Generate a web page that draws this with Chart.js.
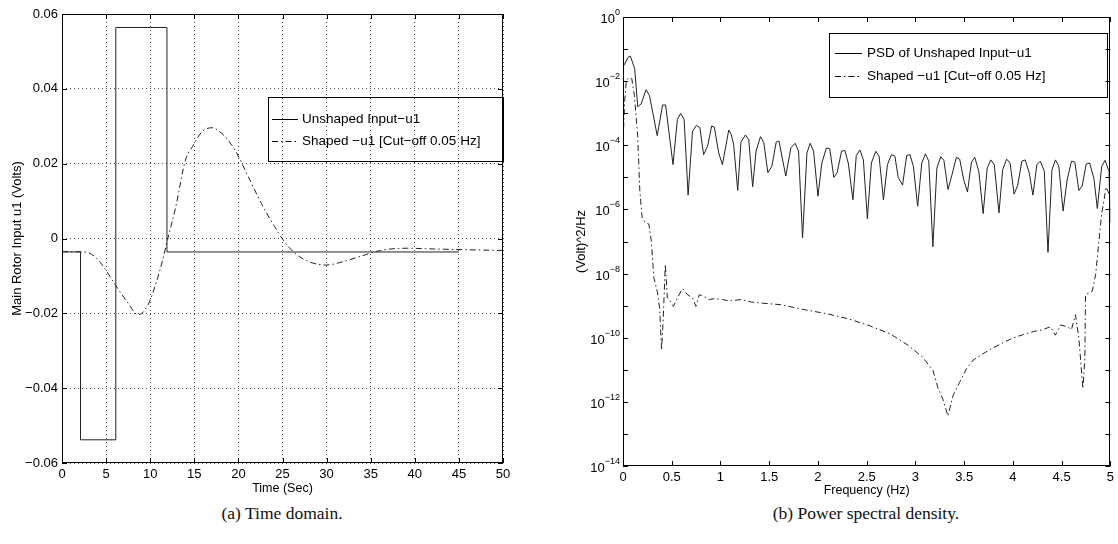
<!DOCTYPE html>
<html>
<head>
<meta charset="utf-8">
<script src="https://cdn.jsdelivr.net/npm/chart.js@4.4.1/dist/chart.umd.min.js"></script>
<style>
  body { margin: 0; background: #fff; width: 1118px; height: 544px; position: relative; overflow: hidden; }
  canvas { position: absolute; top: 0; }
  #timeChart { left: 0; }
  #psdChart { left: 560px; }
  .caption { position: absolute; top: 503px; font-family: "Liberation Serif", "Times New Roman", serif; font-size: 17.5px; color: #111; text-align: center; }
</style>
</head>
<body>
<canvas id="timeChart" width="560" height="500"></canvas>
<canvas id="psdChart" width="558" height="500"></canvas>
<div class="caption" style="left:0;width:564px">(a) Time domain.</div>
<div class="caption" style="left:560px;width:612px">(b) Power spectral density.</div>
<script>
const FONT = "'Liberation Sans', Arial, sans-serif";

// (a) time domain
const timeXTicks = [0, 5, 10, 15, 20, 25, 30, 35, 40, 45, 50];
const timeYTicks = [-0.06, -0.04, -0.02, 0, 0.02, 0.04, 0.06];
const unshapedT = [0, 2.1, 6.1, 11.9, 45];
const unshapedU = [-0.0036, -0.0538, 0.0564, -0.0036, -0.0036];
const shapedT = [0, 2.6, 3.7, 4.7, 5.8, 7.5, 8.6, 9.7, 11.0, 12.15, 12.9, 14.0, 14.8, 15.9, 17.0, 18.1,
    19.6, 21.1, 22.6, 24.1, 25.2, 26.4, 27.9, 29.9, 32.0, 33.8, 36.1, 39.1, 42.1, 45.8, 50];
const shapedU = [-0.0035, -0.0036, -0.0048, -0.0075, -0.0115, -0.0173, -0.0204, -0.018, -0.0093, 0.0014,
    0.0085, 0.021, 0.0246, 0.0286, 0.0296, 0.0281, 0.0237, 0.0166, 0.0094, 0.0032, -0.0008, -0.0039,
    -0.0061, -0.0071, -0.0061, -0.0048, -0.0032, -0.0026, -0.0028, -0.003, -0.0032];

// (b) power spectral density
const freqXTicks = [0, 0.5, 1, 1.5, 2, 2.5, 3, 3.5, 4, 4.5, 5];
const psdYTicks = [1e0, 1e-1, 1e-2, 1e-3, 1e-4, 1e-5, 1e-6, 1e-7, 1e-8, 1e-9, 1e-10, 1e-11, 1e-12, 1e-13, 1e-14];
const psdFreqUnshaped = [0, 0.058, 0.076, 0.12, 0.151, 0.186, 0.237, 0.272, 0.351, 0.406,
    0.437, 0.513, 0.558, 0.592, 0.627, 0.668, 0.713, 0.754, 0.789, 0.827,
    0.868, 0.909, 0.937, 0.982, 1.02, 1.085, 1.11, 1.135, 1.177, 1.21,
    1.256, 1.29, 1.33, 1.365, 1.41, 1.445, 1.486, 1.527, 1.572, 1.6,
    1.67, 1.722, 1.766, 1.801, 1.842, 1.887, 1.92, 1.955, 2.0, 2.04,
    2.087, 2.121, 2.163, 2.197, 2.242, 2.276, 2.311, 2.359, 2.393, 2.431,
    2.466, 2.507, 2.548, 2.593, 2.627, 2.672, 2.713, 2.754, 2.789, 2.823,
    2.868, 2.91, 2.944, 2.979, 3.023, 3.065, 3.103, 3.137, 3.179, 3.22,
    3.26, 3.292, 3.334, 3.375, 3.42, 3.454, 3.496, 3.534, 3.575, 3.609,
    3.65, 3.695, 3.736, 3.774, 3.809, 3.857, 3.895, 3.936, 3.971, 4.012,
    4.05, 4.091, 4.126, 4.167, 4.205, 4.246, 4.281, 4.322, 4.36, 4.401,
    4.436, 4.47, 4.515, 4.556, 4.601, 4.635, 4.677, 4.711, 4.752, 4.787,
    4.831, 4.866, 4.911, 4.945, 4.986, 5.0];
const psdUnshaped = [2.8e-2, 5.8e-2, 6.0e-2, 2.45e-2, 1.6e-3, 1.95e-3, 5.4e-3, 3.5e-3, 2.0e-4, 1.8e-3,
    1.8e-3, 2.5e-5, 6.5e-4, 9.8e-4, 6.5e-4, 2.8e-6, 2.75e-4, 4.2e-4, 3.5e-4, 5.1e-5,
    9.3e-5, 4.0e-4, 3.7e-4, 5.75e-5, 2.5e-5, 3.0e-4, 2.2e-4, 1.05e-4, 3.9e-6, 1.26e-4,
    2.1e-4, 1.5e-4, 5.1e-6, 6.6e-5, 1.86e-4, 1.2e-4, 1.4e-5, 2.2e-5, 1.26e-4, 1.35e-4,
    1.1e-5, 8.3e-5, 1.15e-4, 6.6e-5, 1.3e-7, 5.75e-5, 1.15e-4, 6.6e-5, 2.6e-6, 2.8e-5,
    8.3e-5, 7.8e-5, 1.0e-5, 1.4e-5, 6.6e-5, 6.9e-5, 2.8e-5, 2.0e-6, 4.8e-5, 7.1e-5,
    3.5e-5, 5.1e-7, 2.8e-5, 6.5e-5, 4.6e-5, 2.0e-6, 2.5e-5, 5.1e-5, 4.6e-5, 1.0e-5,
    5.75e-6, 4.8e-5, 5.1e-5, 2.2e-5, 1.26e-6, 2.8e-5, 5.4e-5, 3.2e-5, 6.9e-8, 1.95e-5,
    4.4e-5, 3.4e-5, 4.2e-6, 1.2e-5, 4.2e-5, 3.7e-5, 8.3e-6, 3.5e-6, 3.0e-5, 4.2e-5,
    1.55e-5, 7.4e-7, 1.95e-5, 3.5e-5, 2.5e-5, 7.8e-7, 1.74e-5, 3.7e-5, 2.8e-5, 3.0e-6,
    5.75e-6, 3.2e-5, 3.5e-5, 1.4e-5, 2.8e-6, 2.5e-5, 3.2e-5, 1.55e-5, 4.6e-8, 1.74e-5,
    3.5e-5, 2.3e-5, 8.9e-7, 8.3e-6, 3.2e-5, 3.0e-5, 3.9e-6, 5.4e-6, 2.6e-5, 2.8e-5,
    9.3e-6, 1.07e-6, 2.2e-5, 3.4e-5, 1.55e-5, 4.0e-7];
const psdFreqShaped = [0, 0.017, 0.034, 0.058, 0.09, 0.117, 0.151, 0.172, 0.196, 0.231,
    0.265, 0.29, 0.317, 0.351, 0.376, 0.396, 0.413, 0.434, 0.455, 0.482,
    0.517, 0.558, 0.61, 0.661, 0.713, 0.748, 0.782, 0.827, 0.885, 0.937,
    1.023, 1.092, 1.213, 1.316, 1.419, 1.619, 1.869, 2.09, 2.31, 2.525,
    2.745, 2.927, 3.073, 3.18, 3.23, 3.282, 3.334, 3.385, 3.454, 3.523,
    3.592, 3.678, 3.781, 3.885, 3.988, 4.109, 4.229, 4.298, 4.384, 4.436,
    4.488, 4.556, 4.601, 4.642, 4.677, 4.718, 4.738, 4.745, 4.814, 4.849,
    4.883, 4.911, 4.935, 4.955, 5.0];
const psdShaped = [1.26e-4, 2.3e-3, 1.05e-2, 1.26e-2, 1.2e-2, 3.5e-3, 1.95e-4, 4.1e-6, 5.75e-7, 3.8e-7,
    3.5e-7, 1.07e-7, 7.4e-9, 2.8e-9, 8.3e-10, 4.1e-11, 4.1e-10, 1.95e-8, 1.74e-9, 1.4e-9,
    9.5e-10, 1.74e-9, 3.4e-9, 2.2e-9, 1.74e-9, 9.5e-10, 2.2e-9, 1.95e-9, 1.55e-9, 1.66e-9,
    1.55e-9, 1.4e-9, 1.55e-9, 1.3e-9, 1.2e-9, 1.07e-9, 7.4e-10, 5.6e-10, 3.9e-10, 2.4e-10,
    1.3e-10, 5.75e-11, 2.5e-11, 9.5e-12, 2.8e-12, 1.2e-12, 3.6e-13, 1.55e-12, 4.1e-12, 1.07e-11,
    2.0e-11, 2.95e-11, 4.6e-11, 6.6e-11, 9.5e-11, 1.26e-10, 1.6e-10, 1.74e-10, 2.2e-10, 1.2e-10,
    2.5e-10, 2.2e-10, 1.8e-10, 5.2e-10, 9.5e-11, 2.6e-12, 2.2e-11, 2.2e-9, 2.8e-9, 9.5e-9,
    1.07e-7, 7.4e-7, 1.95e-6, 5.0e-6, 2.5e-6];

const DASH_DOT = [6, 3, 1.5, 3];
const pts = (xs, ys) => xs.map((x, i) => ({ x: x, y: ys[i] }));
const setTicks = (list) => (scale) => { scale.ticks = list.map((v) => ({ value: v })); };

// MATLAB style box, inward ticks, 10^n labels and framed legend
const matlabFrame = {
    id: "matlabFrame",
    afterDatasetsDraw(chart, args, opts) {
        const { ctx, chartArea: a, scales } = chart;
        ctx.save();
        ctx.strokeStyle = "#000";
        ctx.lineWidth = 1;
        ctx.setLineDash([]);
        ctx.strokeRect(Math.round(a.left) + 0.5, Math.round(a.top) + 0.5,
            Math.round(a.right - a.left) - 1, Math.round(a.bottom - a.top) - 1);
        const len = 5;
        ctx.beginPath();
        scales.x.ticks.forEach((t) => {
            const px = Math.round(scales.x.getPixelForValue(t.value)) + 0.5;
            ctx.moveTo(px, a.bottom); ctx.lineTo(px, a.bottom - len);
            ctx.moveTo(px, a.top); ctx.lineTo(px, a.top + len);
        });
        scales.y.ticks.forEach((t) => {
            const py = Math.round(scales.y.getPixelForValue(t.value)) + 0.5;
            ctx.moveTo(a.left, py); ctx.lineTo(a.left + len, py);
            ctx.moveTo(a.right, py); ctx.lineTo(a.right - len, py);
        });
        ctx.stroke();

        // power-of-ten labels: "10" with a raised exponent
        if (opts.powerLabels) {
            ctx.fillStyle = "#000";
            ctx.textAlign = "right";
            ctx.textBaseline = "alphabetic";
            scales.y.ticks.forEach((t) => {
                const e = Math.round(Math.log10(t.value));
                if (e % 2 !== 0) return;
                const py = scales.y.getPixelForValue(t.value);
                const right = a.left - 3;
                ctx.font = "9px " + FONT;
                const exp = e === 0 ? "0" : "\u2212" + String(-e);
                const w = ctx.measureText(exp).width;
                ctx.fillText(exp, right, py - 2);
                ctx.font = "13px " + FONT;
                ctx.fillText("10", right - w, py + 6);
            });
        }

        // legend
        const L = opts.legend;
        ctx.strokeRect(L.box[0] + 0.5, L.box[1] + 0.5, L.box[2] - L.box[0], L.box[3] - L.box[1]);
        ctx.font = "13.5px " + FONT;
        ctx.fillStyle = "#000";
        ctx.textAlign = "left";
        ctx.textBaseline = "middle";
        chart.data.datasets.forEach((ds, i) => {
            const y = L.rows[i] + 0.5;
            ctx.setLineDash(ds.borderDash || []);
            ctx.beginPath();
            ctx.moveTo(L.sample[0], y);
            ctx.lineTo(L.sample[1], y);
            ctx.stroke();
            ctx.fillText(ds.label, L.textX, L.rows[i]);
        });
        ctx.restore();
    },
};

const tickFont = { family: FONT, size: 13 };
const titleFont = { family: FONT, size: 12.5 };

new Chart(document.getElementById("timeChart"), {
    type: "line",
    data: {
        datasets: [
            {
                label: "Unshaped Input\u2212u1",
                data: pts(unshapedT, unshapedU),
                stepped: "before",
                borderColor: "#222",
                borderWidth: 1,
                pointRadius: 0,
            },
            {
                label: "Shaped \u2212u1 [Cut\u2212off 0.05 Hz]",
                data: pts(shapedT, shapedU),
                cubicInterpolationMode: "monotone",
                borderColor: "#222",
                borderWidth: 1,
                borderDash: DASH_DOT,
                pointRadius: 0,
            },
        ],
    },
    options: {
        responsive: false,
        animation: false,
        layout: { padding: { left: 0, top: 14, right: 57, bottom: 0 } },
        scales: {
            x: {
                type: "linear",
                min: 0,
                max: 50,
                afterBuildTicks: setTicks(timeXTicks),
                afterFit: (s) => { s.height = 37; },
                ticks: { color: "#000", font: tickFont, padding: 4, maxRotation: 0, autoSkip: false },
                grid: { color: "rgba(0,0,0,0.7)", drawTicks: false },
                border: { display: false, dash: [1, 3] },
                title: { display: true, text: "Time (Sec)", color: "#000", font: titleFont, padding: { top: 0, bottom: 4 } },
            },
            y: {
                type: "linear",
                min: -0.06,
                max: 0.06,
                afterBuildTicks: setTicks(timeYTicks),
                afterFit: (s) => { s.width = 62; },
                ticks: {
                    color: "#000",
                    font: tickFont,
                    padding: 4,
                    autoSkip: false,
                    callback: (v) => (Math.abs(v) < 1e-9 ? "0" : v.toFixed(2).replace("-", "\u2212")),
                },
                grid: { color: "rgba(0,0,0,0.7)", drawTicks: false },
                border: { display: false, dash: [1, 3] },
                title: { display: true, text: "Main Rotor Input u1 (Volts)", color: "#000", font: { family: FONT, size: 13 }, padding: { top: 10, bottom: 0 } },
            },
        },
        plugins: {
            legend: { display: false },
            tooltip: { enabled: false },
            matlabFrame: {
                legend: { box: [268, 97, 503, 161], rows: [119, 141], sample: [272, 298], textX: 302 },
            },
        },
    },
    plugins: [matlabFrame],
});

new Chart(document.getElementById("psdChart"), {
    type: "line",
    data: {
        datasets: [
            {
                label: "PSD of Unshaped Input\u2212u1",
                data: pts(psdFreqUnshaped, psdUnshaped),
                borderColor: "#222",
                borderWidth: 1,
                pointRadius: 0,
            },
            {
                label: "Shaped \u2212u1 [Cut\u2212off 0.05 Hz]",
                data: pts(psdFreqShaped, psdShaped),
                borderColor: "#222",
                borderWidth: 1,
                borderDash: DASH_DOT,
                pointRadius: 0,
            },
        ],
    },
    options: {
        responsive: false,
        animation: false,
        layout: { padding: { left: 0, top: 17, right: 7, bottom: 0 } },
        scales: {
            x: {
                type: "linear",
                min: 0,
                max: 5,
                afterBuildTicks: setTicks(freqXTicks),
                afterFit: (s) => { s.height = 34; },
                ticks: {
                    color: "#000",
                    font: tickFont,
                    padding: 4,
                    maxRotation: 0,
                    autoSkip: false,
                    callback: (v) => String(v),
                },
                grid: { display: false, drawTicks: false },
                border: { display: false },
                title: { display: true, text: "Frequency (Hz)", color: "#000", font: titleFont, padding: { top: 0, bottom: 2 } },
            },
            y: {
                type: "logarithmic",
                min: 1e-14,
                max: 1,
                afterBuildTicks: setTicks(psdYTicks),
                afterFit: (s) => { s.width = 63; },
                ticks: { display: false, autoSkip: false },
                grid: { display: false, drawTicks: false },
                border: { display: false },
                title: { display: true, text: "(Volt)^2/Hz", color: "#000", font: { family: FONT, size: 13 }, padding: { top: 14, bottom: 0 } },
            },
        },
        plugins: {
            legend: { display: false },
            tooltip: { enabled: false },
            matlabFrame: {
                powerLabels: true,
                legend: { box: [269, 33, 547, 97], rows: [53, 76], sample: [275, 302], textX: 307 },
            },
        },
    },
    plugins: [matlabFrame],
});
</script>
</body>
</html>
